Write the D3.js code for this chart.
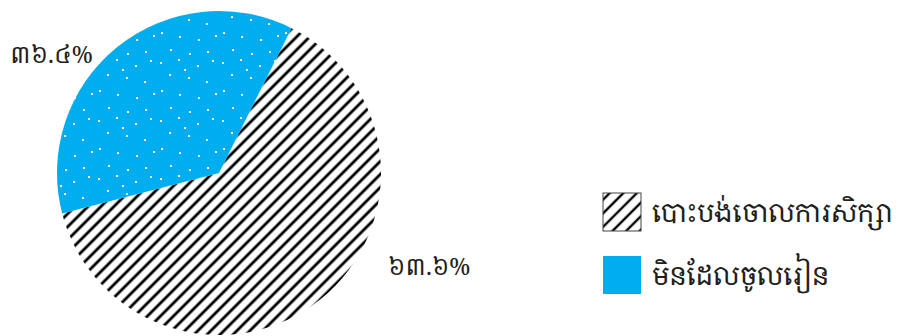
<!DOCTYPE html>
<html><head><meta charset="utf-8">
<script src="https://cdn.jsdelivr.net/npm/d3@7"></script>
<style>
html,body{margin:0;padding:0;background:#fff;}
svg{display:block;}
text{font-family:"Khmer OS","Khmer OS System","Noto Serif Khmer","Khmer",serif;}
</style></head>
<body>
<svg id="chart" width="900" height="336"></svg>
<script>
const categories = ["បោះបង់ចោលការសិក្សា", "មិនដែលចូលរៀន"];
const values = [63.6, 36.4];
const valueLabels = ["៦៣.៦%", "៣៦.៤%"];

const svg = d3.select("#chart");
const defs = svg.append("defs");

function makeHatch(id, p, sw){
  const h = defs.append("pattern")
    .attr("id",id).attr("patternUnits","userSpaceOnUse")
    .attr("width",p).attr("height",p)
    .attr("patternTransform","rotate(45)");
  h.append("rect").attr("width",p).attr("height",p).attr("fill","#fff");
  h.append("line").attr("x1",p/2).attr("y1",0).attr("x2",p/2).attr("y2",p)
    .attr("stroke","#000").attr("stroke-width",sw);
}
makeHatch("hatch", 9.2, 2.8);
makeHatch("hatchL", 9.6, 2.4);

// dotted pattern (fixed decorative tile)
const dotsTile = [[3,5],[21,2],[40,8],[55,3],[12,17],[31,20],[49,24],[4,33],[22,37],[41,40],[58,36],[13,50],[32,54],[50,52],[27,12]];
const dots = defs.append("pattern")
  .attr("id","dots").attr("patternUnits","userSpaceOnUse")
  .attr("width",62).attr("height",58);
dots.append("rect").attr("width",62).attr("height",58).attr("fill","#00aeef");
dots.selectAll("rect.d").data(dotsTile).join("rect").attr("class","d")
  .attr("x",d=>d[0]).attr("y",d=>d[1]).attr("width",2).attr("height",2).attr("fill","#fff");

const fills = ["url(#hatch)", "url(#dots)"];
const legendFills = ["url(#hatchL)", "#00aeef"];

const cx = 219, cy = 173, r = 162;
const start = 26.6 * Math.PI/180;
const pie = d3.pie().sort(null).value(d=>d).startAngle(start).endAngle(start + 2*Math.PI);
const arcs = pie(values);
const arc = d3.arc().innerRadius(0).outerRadius(r);

const g = svg.append("g").attr("transform",`translate(${cx},${cy})`);
g.selectAll("path").data(arcs).join("path")
  .attr("d",arc).attr("fill",(d,i)=>fills[i]);

// value labels
const labelPos = [[388,275],[10,63]];
svg.selectAll("text.val").data(valueLabels).join("text").attr("class","val")
  .attr("x",(d,i)=>labelPos[i][0]).attr("y",(d,i)=>labelPos[i][1])
  .attr("font-size",23.5).attr("fill","#231f20").text(d=>d);

// legend
const lg = svg.append("g").attr("transform","translate(603,193)");
const item = lg.selectAll("g").data(categories).join("g")
  .attr("transform",(d,i)=>`translate(0,${i*63})`);
item.append("rect").attr("width",38).attr("height",38)
  .attr("fill",(d,i)=>legendFills[i])
  .attr("stroke",(d,i)=>i===0?"#444":"none").attr("stroke-width",1);
item.append("text").attr("x",49).attr("y",29).attr("font-size",26.5)
  .attr("fill","#231f20").text(d=>d);
</script>
</body></html>
